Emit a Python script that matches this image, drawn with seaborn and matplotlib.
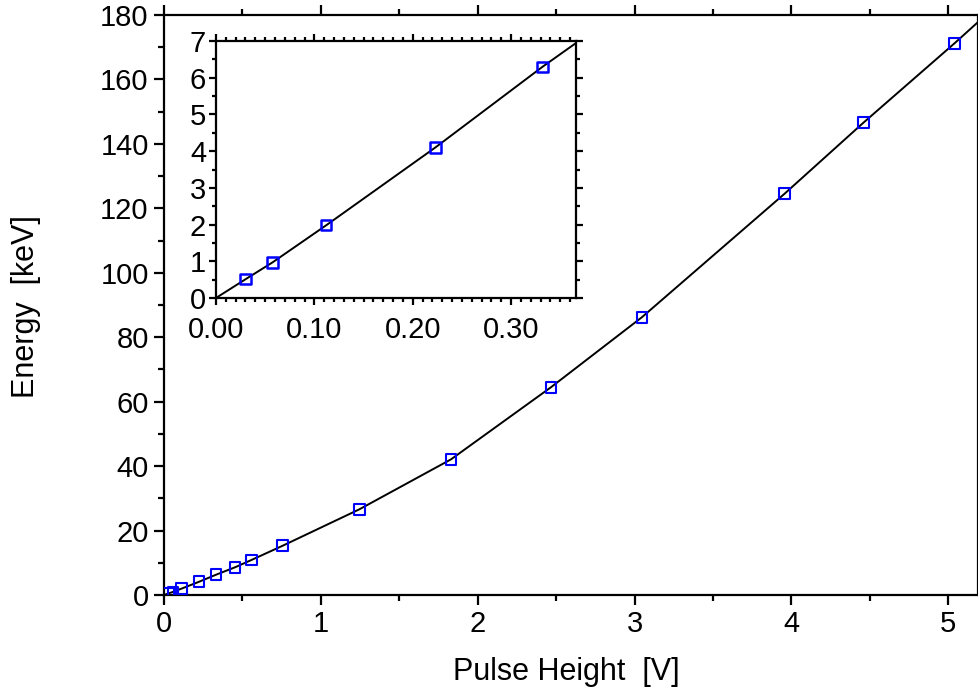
import matplotlib
matplotlib.use('Agg')
import matplotlib.pyplot as plt
from matplotlib.ticker import MultipleLocator, FormatStrFormatter
import seaborn as sns

# Calibration points
pulse_v = [0.030, 0.0575, 0.112, 0.223, 0.332, 0.453, 0.559, 0.757,
           1.246, 1.830, 2.468, 3.047, 3.956, 4.460, 5.040]
energy_kev = [0.51, 0.97, 1.98, 4.10, 6.30, 8.6, 10.9, 15.3,
              26.6, 42.1, 64.5, 86.2, 124.5, 146.6, 171.2]

# Fit curve: origin, through the points, out to the right edge
fit_v = [0.0] + pulse_v + [5.19]
fit_kev = [0.0] + energy_kev + [177.8]

# Low energy points shown in the inset
inset_v = pulse_v[:5]
inset_kev = energy_kev[:5]

sns.set_style('ticks')
plt.rcParams['font.family'] = ['Liberation Sans', 'DejaVu Sans']
plt.rcParams['axes.linewidth'] = 1.6
for key in ['text.color', 'axes.labelcolor', 'xtick.color', 'ytick.color',
            'axes.edgecolor']:
    plt.rcParams[key] = 'black'

fig = plt.figure(figsize=(9.79, 6.93), dpi=100)

# Main plot
ax = fig.add_axes([0.1675, 0.1414, 0.8315, 0.8370])
sns.lineplot(x=fit_v, y=fit_kev, ax=ax, color='black', lw=1.4,
             sort=False, estimator=None)
sns.scatterplot(x=pulse_v, y=energy_kev, ax=ax, marker='s', s=60,
                color='blue', facecolor='none', edgecolor='blue',
                linewidth=1.5, zorder=3)
ax.set_xlim(0, 5.19)
ax.set_ylim(0, 180)
ax.xaxis.set_major_locator(MultipleLocator(1))
ax.xaxis.set_minor_locator(MultipleLocator(0.5))
ax.yaxis.set_major_locator(MultipleLocator(20))
ax.yaxis.set_minor_locator(MultipleLocator(10))
ax.tick_params(which='both', direction='out', top=True, right=False, width=1.6)
ax.tick_params(which='major', length=7, labelsize=21, pad=4)
ax.tick_params(which='minor', length=4)
ax.set_xlabel('')
ax.set_ylabel('')
fig.text(0.578, 0.030, 'Pulse Height  [V]', fontsize=22, ha='center', va='center')
fig.text(0.027, 0.558, 'Energy  [keV]', fontsize=22, rotation=90,
         ha='center', va='center')

# Inset
ax_in = fig.add_axes([0.2206, 0.5700, 0.3678, 0.3708])
sns.lineplot(x=fit_v, y=fit_kev, ax=ax_in, color='black', lw=1.4,
             sort=False, estimator=None)
sns.scatterplot(x=inset_v, y=inset_kev, ax=ax_in, marker='s', s=55,
                color='blue', facecolor='none', edgecolor='blue',
                linewidth=1.8, zorder=3)
ax_in.set_xlim(0, 0.366)
ax_in.set_ylim(0, 7)
ax_in.xaxis.set_major_locator(MultipleLocator(0.1))
ax_in.xaxis.set_minor_locator(MultipleLocator(0.01))
ax_in.xaxis.set_major_formatter(FormatStrFormatter('%.2f'))
ax_in.yaxis.set_major_locator(MultipleLocator(1))
ax_in.yaxis.set_minor_locator(MultipleLocator(0.5))
ax_in.tick_params(which='both', direction='out', top=True, right=True, width=1.6)
ax_in.tick_params(which='major', length=5, labelsize=21, pad=2)
ax_in.tick_params(which='minor', length=3)
ax_in.tick_params(axis='x', which='major', pad=8)
ax_in.set_xlabel('')
ax_in.set_ylabel('')

plt.savefig('out.png', dpi=100)
